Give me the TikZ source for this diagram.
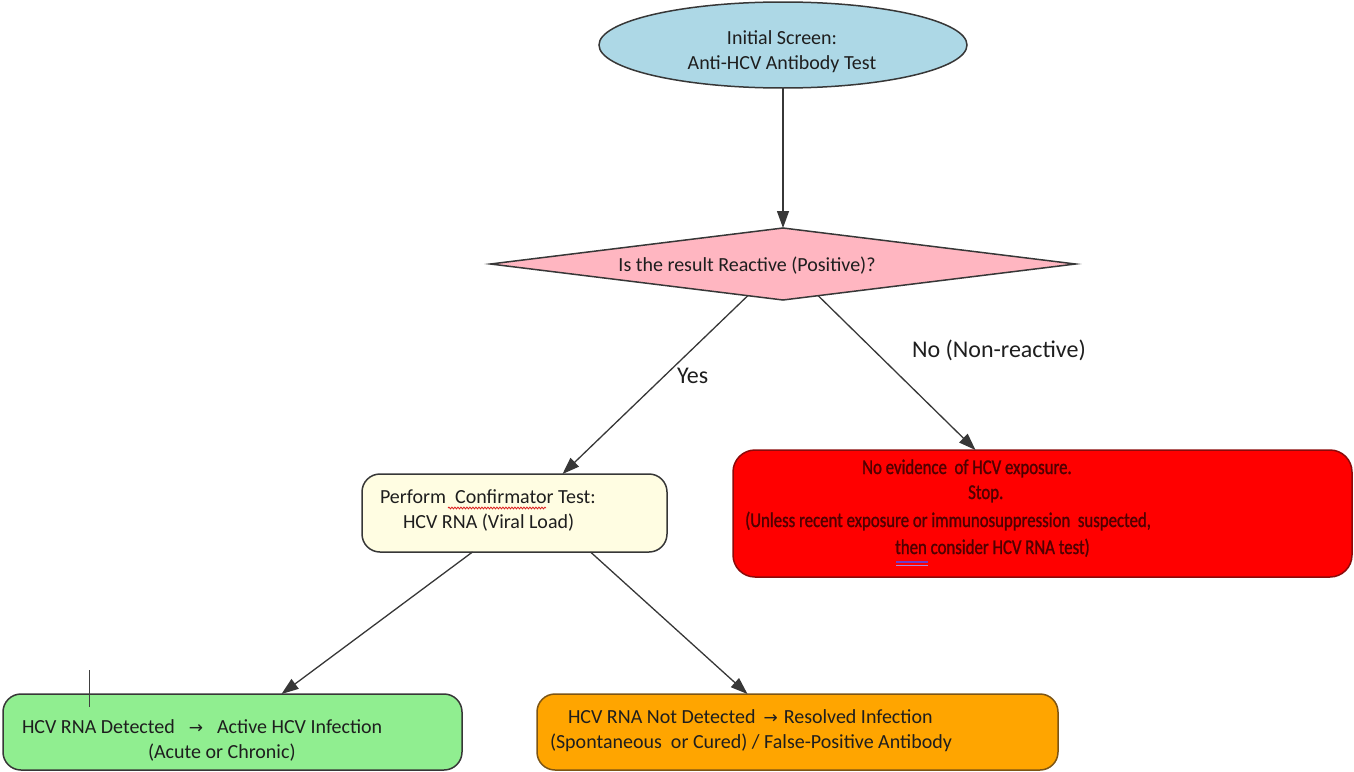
\documentclass[tikz,border=0pt]{standalone}
\usepackage{fontspec}
\setmainfont{Carlito}
\newfontfamily\narrowfont[FakeStretch=0.8,FakeBold=1.2]{Carlito}
\newfontfamily\symbolfont{DejaVu Sans}
\usetikzlibrary{shapes.geometric,arrows.meta,calc,decorations.pathmorphing}

\definecolor{edgegray}{RGB}{55,55,55}
\definecolor{textgray}{RGB}{30,30,30}
\definecolor{screenblue}{RGB}{173,216,230}
\definecolor{questionpink}{RGB}{255,182,193}
\definecolor{stopred}{RGB}{255,0,0}
\definecolor{stopborder}{RGB}{140,10,10}
\definecolor{stoptext}{RGB}{80,0,0}
\definecolor{confirmyellow}{RGB}{255,253,226}
\definecolor{activegreen}{RGB}{144,238,144}
\definecolor{resolvedorange}{RGB}{255,165,0}
\definecolor{orangeborder}{RGB}{125,85,20}
\definecolor{spellred}{RGB}{220,30,30}
\definecolor{grammarblue}{RGB}{110,60,200}

\newcommand{\rarr}{{\symbolfont\fontsize{17}{17}\selectfont →}}

\begin{document}
\begin{tikzpicture}[x=1pt,y=-1pt,
  every node/.style={inner sep=0pt, outer sep=0pt},
  shapeline/.style={draw=edgegray, line width=1.5pt},
  boxtext/.style={text=textgray, font=\fontsize{20}{25}\selectfont, align=left},
  steplabel/.style={text=textgray, font=\fontsize{24}{28}\selectfont},
  roundbox/.style={shapeline, rounded corners=18pt, anchor=north west},
  flow/.style={draw=edgegray, line width=1.3pt, -{Triangle[length=17pt,width=12pt]}}
]
\useasboundingbox (0,0) rectangle (1354,771);

% initial screening test
\node[ellipse, shapeline, fill=screenblue, minimum width=368pt, minimum height=86pt] (screen) at (783,45) {};
\node[boxtext, align=center] (screen-text) at (782,52) {Initial Screen:\\Anti-HCV Antibody Test};

% decision
\node[diamond, shapeline, fill=questionpink, minimum width=585pt, minimum height=72pt] (question) at (783,264) {};
\node[boxtext] (question-text) at (747,266) {Is the result Reactive (Positive)?};

% negative branch
\node[roundbox, fill=stopred, draw=stopborder, minimum width=619pt, minimum height=127pt, rounded corners=22pt] (stop) at (733,450) {};
\begin{scope}[every node/.style={inner sep=0pt, text=stoptext, font=\narrowfont\fontsize{21}{26}\selectfont, anchor=base west}]
\node (stop-l1) at (862,474) {No evidence\ \ of HCV exposure.};
\node (stop-l2) at (968,499) {Stop.};
\node (stop-l3) at (745,527) {(Unless recent exposure or immunosuppression\ \ suspected,};
\node (stop-l4) at (895,554) {then consider HCV RNA test)};
\end{scope}
\draw[grammarblue, line width=1.2pt] (896,562) -- (928,562);
\draw[grammarblue!60, line width=0.8pt] (896,565) -- (928,565);

% positive branch: confirmatory test
\node[roundbox, fill=confirmyellow, minimum width=305pt, minimum height=78pt] (confirm) at (362,474) {};
\node[boxtext, anchor=west] (confirm-text) at (380,510) {Perform\ \ Confirmator Test:\\\hspace*{23pt}HCV RNA (Viral Load)};
\draw[spellred, line width=0.8pt, decorate, decoration={snake, amplitude=0.9pt, segment length=3pt}] (448,508) -- (546,508);

% outcomes
\node[roundbox, fill=activegreen, minimum width=459pt, minimum height=76pt] (active) at (3,694) {};
\node[boxtext, anchor=west] (active-text) at (22,740) {HCV RNA Detected\hspace{14pt}\rarr\hspace{14pt}Active HCV Infection\\\hspace*{126pt}(Acute or Chronic)};

\node[roundbox, fill=resolvedorange, draw=orangeborder, minimum width=521pt, minimum height=76pt] (resolved) at (537,694) {};
\node[boxtext, anchor=west] (resolved-text) at (550,731) {\hspace*{18pt}HCV RNA Not Detected\hspace{8pt}\rarr\hspace{6pt}Resolved Infection\\(Spontaneous\ \ or Cured) / False-Positive Antibody};

% text cursor mark
\coordinate (caret-top) at (89,670);
\coordinate (caret-bottom) at (89,707);
\draw[black!75, line width=1pt] (caret-top) -- (caret-bottom);

% connectors
\draw[flow] (screen.south) -- (question.north);
\draw[flow] (question.222) -- ($(confirm.north)+(48,0)$);
\draw[flow] (question.318) -- ($(stop.north)+(-67,0)$);
\node[steplabel, anchor=west] (yes-label) at (677,376) {Yes};
\node[steplabel, anchor=west] (no-label) at (912,350) {No (Non-reactive)};
\draw[flow] ($(confirm.south)+(-42,0)$) -- ($(active.north)+(49,0)$);
\draw[flow] ($(confirm.south)+(76,0)$) -- ($(resolved.north)+(-50,0)$);
\end{tikzpicture}
\end{document}
